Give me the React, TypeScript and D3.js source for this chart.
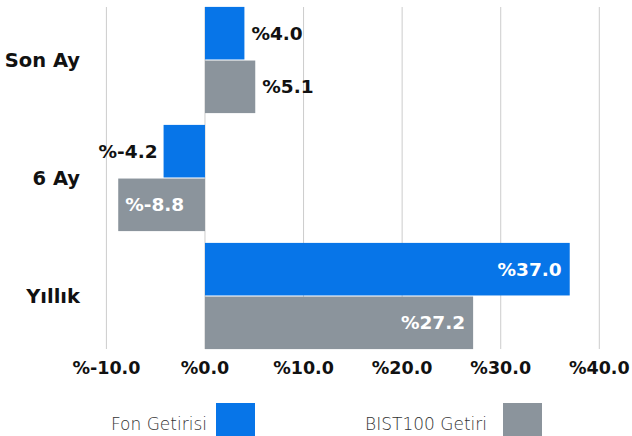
import React from "react";
import * as d3 from "d3";

const categories = ["Son Ay", "6 Ay", "Yıllık"];
const seriesNames = ["Fon Getirisi", "BIST100 Getiri"];
const fonValues = [4.0, -4.2, 37.0];
const bistValues = [5.1, -8.8, 27.2];
const xTicks = [-10, 0, 10, 20, 30, 40];
const colors = ["#0775e8", "#8b949c"];

const W = 632;
const H = 436;
const FONT = "'DejaVu Sans', sans-serif";

export default function App() {
  const x = d3.scaleLinear().domain([-10, 40]).range([106.4, 599.3]);
  const y = d3.scaleBand<string>().domain(categories).range([1, 355]).paddingInner(0.1).paddingOuter(0.05);
  const sub = d3.scaleBand<number>().domain([0, 1]).range([0, y.bandwidth()]).paddingInner(0.02);
  const series = [fonValues, bistValues];
  const fmt = (v: number) => "%" + v.toFixed(1);

  return (
    <svg width={W} height={H} style={{ position: "absolute", left: 0, top: 0, display: "block" }}>
      <rect width={W} height={H} fill="#fff" />
      {xTicks.map((t) => (
        <line key={t} x1={x(t)} x2={x(t)} y1={7} y2={349} stroke="#cccccc" strokeWidth={1} />
      ))}
      {categories.map((c, i) => (
        <g key={c}>
          {series.map((vals, s) => {
            const v = vals[i];
            const x0 = x(Math.min(0, v));
            const x1 = x(Math.max(0, v));
            const yy = (y(c) as number) + (sub(s) as number);
            const h = sub.bandwidth();
            const wpx = x1 - x0;
            const inside = wpx > 75;
            let tx: number, anchor: string, fill: string;
            if (v >= 0) {
              if (inside) { tx = x1 - 8; anchor = "end"; fill = "#fff"; }
              else { tx = x1 + 7; anchor = "start"; fill = "#111"; }
            } else {
              if (inside) { tx = x0 + 7; anchor = "start"; fill = "#fff"; }
              else { tx = x0 - 6; anchor = "end"; fill = "#111"; }
            }
            return (
              <g key={s}>
                <rect x={x0} y={yy} width={wpx} height={h} fill={colors[s]} />
                <text x={tx} y={yy + h / 2} dy="0.36em" textAnchor={anchor} fill={fill}
                  fontFamily={FONT} fontWeight="bold" fontSize={18.5}>{fmt(v)}</text>
              </g>
            );
          })}
          <text x={80} y={(y(c) as number) + y.bandwidth() / 2} dy="0.36em" textAnchor="end"
            fontFamily={FONT} fontWeight="bold" fontSize={19.5} fill="#111">{c}</text>
        </g>
      ))}
      {xTicks.map((t) => (
        <text key={t} x={x(t)} y={368} dy="0.36em" textAnchor="middle" fontFamily={FONT}
          fontWeight="bold" fontSize={17.5} fill="#111">{fmt(t)}</text>
      ))}
      <text x={207} y={430} textAnchor="end" fontFamily={FONT} fontSize={17} fontWeight={300} fill="#333">{seriesNames[0]}</text>
      <rect x={216} y={403} width={39} height={36} fill={colors[0]} />
      <text x={487} y={430} textAnchor="end" fontFamily={FONT} fontSize={17} fontWeight={300} fill="#333">{seriesNames[1]}</text>
      <rect x={503} y={403} width={39} height={36} fill={colors[1]} />
    </svg>
  );
}
